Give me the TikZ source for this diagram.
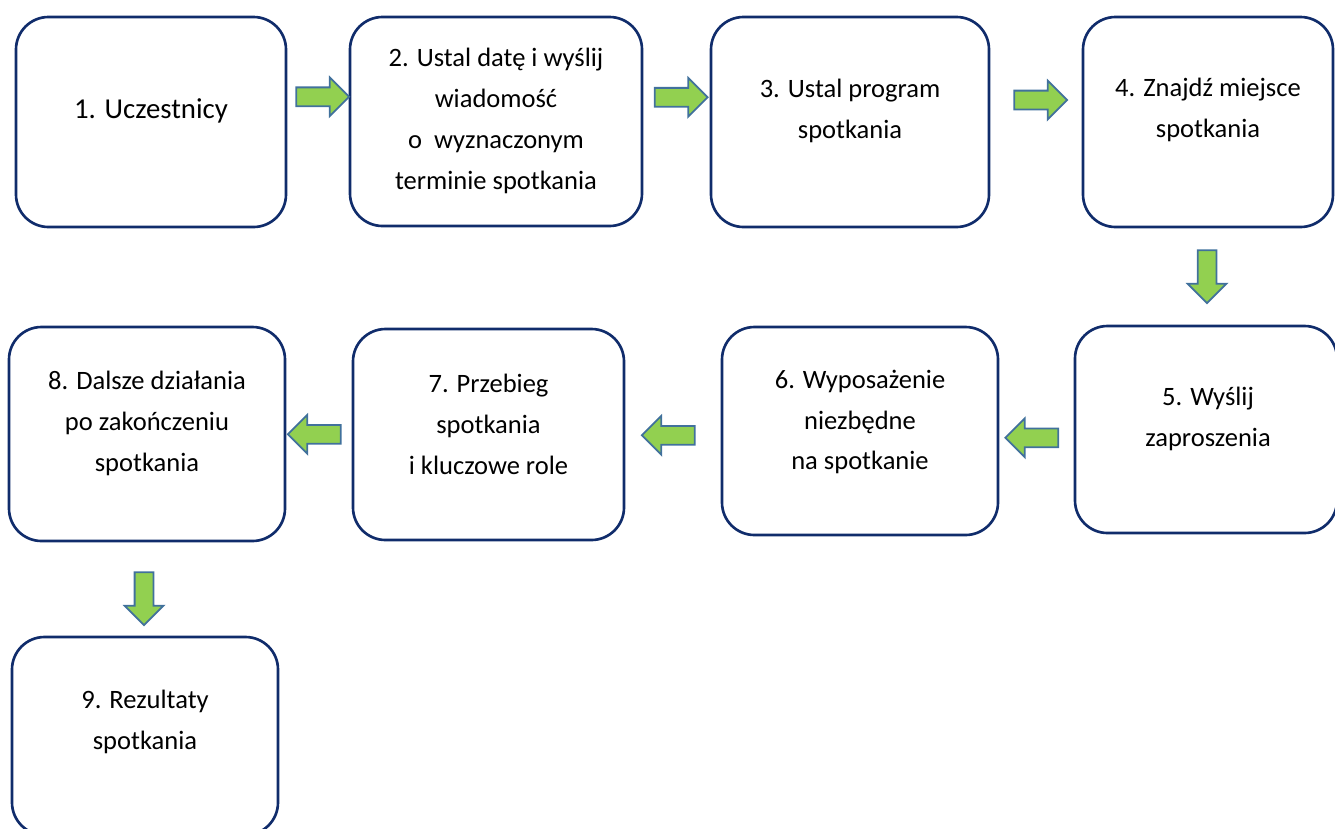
\documentclass[tikz,border=0pt]{standalone}
\usepackage{fontspec}
\setmainfont{Carlito}
\usepackage{xcolor}
\usepackage{tikz}
\usetikzlibrary{shapes.arrows, calc}

\definecolor{boxline}{HTML}{102C6B}
\definecolor{arrowfill}{HTML}{92D050}
\definecolor{arrowline}{HTML}{41719C}

\begin{document}
\begin{tikzpicture}
    \useasboundingbox (0,0) rectangle (26.7,-16.56);

    % Define style for boxes
    \tikzstyle{stage} = [rectangle, rounded corners=0.65cm, draw=boxline, line width=1.5pt, fill=white]
    \tikzstyle{stagetext} = [align=center, inner sep=0pt, font={\fontsize{15.1}{23.3}\selectfont}]
    \tikzstyle{flow} = [single arrow, draw=arrowline, fill=arrowfill, line width=1pt, text height=0.17cm, text depth=0.17cm, minimum width=0.74cm, minimum height=1.06cm, single arrow head extend=0.2cm, inner sep=0pt]

    % Boxes
    \node (uczestnicy) [stage, minimum width=5.4cm, minimum height=4.2cm] at (3.02,-2.44) {};
    \node (data) [stage, minimum width=5.84cm, minimum height=4.18cm] at (9.92,-2.43) {};
    \node (program) [stage, minimum width=5.56cm, minimum height=4.2cm] at (17.0,-2.44) {};
    \node (miejsce) [stage, minimum width=5.0cm, minimum height=4.2cm] at (24.16,-2.44) {};

    \node (zaproszenia) [stage, minimum width=5.24cm, minimum height=4.14cm] at (24.12,-8.59) {};
    \node (wyposazenie) [stage, minimum width=5.52cm, minimum height=4.16cm] at (17.2,-8.62) {};
    \node (przebieg) [stage, minimum width=5.42cm, minimum height=4.22cm] at (9.77,-8.69) {};
    \node (dzialania) [stage, minimum width=5.52cm, minimum height=4.28cm] at (2.94,-8.68) {};

    \node (rezultaty) [stage, minimum width=5.32cm, minimum height=3.96cm] at (2.9,-14.72) {};

    % Texts
    \node (uczestnicytxt) [stagetext, font={\fontsize{16.4}{23.3}\selectfont}] at ($(uczestnicy)+(0,0.22)$) {1. Uczestnicy};
    \node (datatxt) [stagetext] at ($(data)+(0,0.01)$) {2. Ustal datę i wyślij\\wiadomość\\o\ \ wyznaczonym\\terminie spotkania};
    \node (programtxt) [stagetext] at ($(program)+(0,0.23)$) {3. Ustal program\\spotkania};
    \node (miejscetxt) [stagetext] at ($(miejsce)+(0,0.24)$) {4. Znajdź miejsce\\spotkania};
    \node (zaproszeniatxt) [stagetext] at ($(zaproszenia)+(0.04,0.22)$) {5. Wyślij\\zaproszenia};
    \node (wyposazenietxt) [stagetext] at ($(wyposazenie)+(0,0.18)$) {6. Wyposażenie\\niezbędne\\na spotkanie};
    \node (przebiegtxt) [stagetext] at ($(przebieg)+(0,0.21)$) {7. Przebieg\\spotkania\\i kluczowe role};
    \node (dzialaniatxt) [stagetext] at ($(dzialania)+(0,0.22)$) {8. Dalsze działania\\po zakończeniu\\spotkania};
    \node (rezultatytxt) [stagetext] at ($(rezultaty)+(0,0.28)$) {9. Rezultaty\\spotkania};

    % Arrows
    \node (arr1) [flow] at ($(uczestnicy.east)!0.5!(data.west)+(0,0.5)$) {};
    \node (arr2) [flow] at ($(data.east)!0.5!(program.west)+(0,0.49)$) {};
    \node (arr3) [flow] at ($(program.east)!0.5!(miejsce.west)+(0,0.44)$) {};
    \node (arr4) [flow, rotate=-90] at ($(miejsce.south)!0.5!(zaproszenia.north)+(0,0.09)$) {};
    \node (arr5) [flow, rotate=180] at ($(zaproszenia.west)!0.5!(wyposazenie.east)+(0,-0.15)$) {};
    \node (arr6) [flow, rotate=180] at ($(wyposazenie.west)!0.5!(przebieg.east)+(0,-0.05)$) {};
    \node (arr7) [flow, rotate=180] at ($(przebieg.west)!0.5!(dzialania.east)$) {};
    \node (arr8) [flow, rotate=-90] at ($(dzialania.south)!0.5!(rezultaty.north)+(-0.04,-0.1)$) {};

\end{tikzpicture}
\end{document}
